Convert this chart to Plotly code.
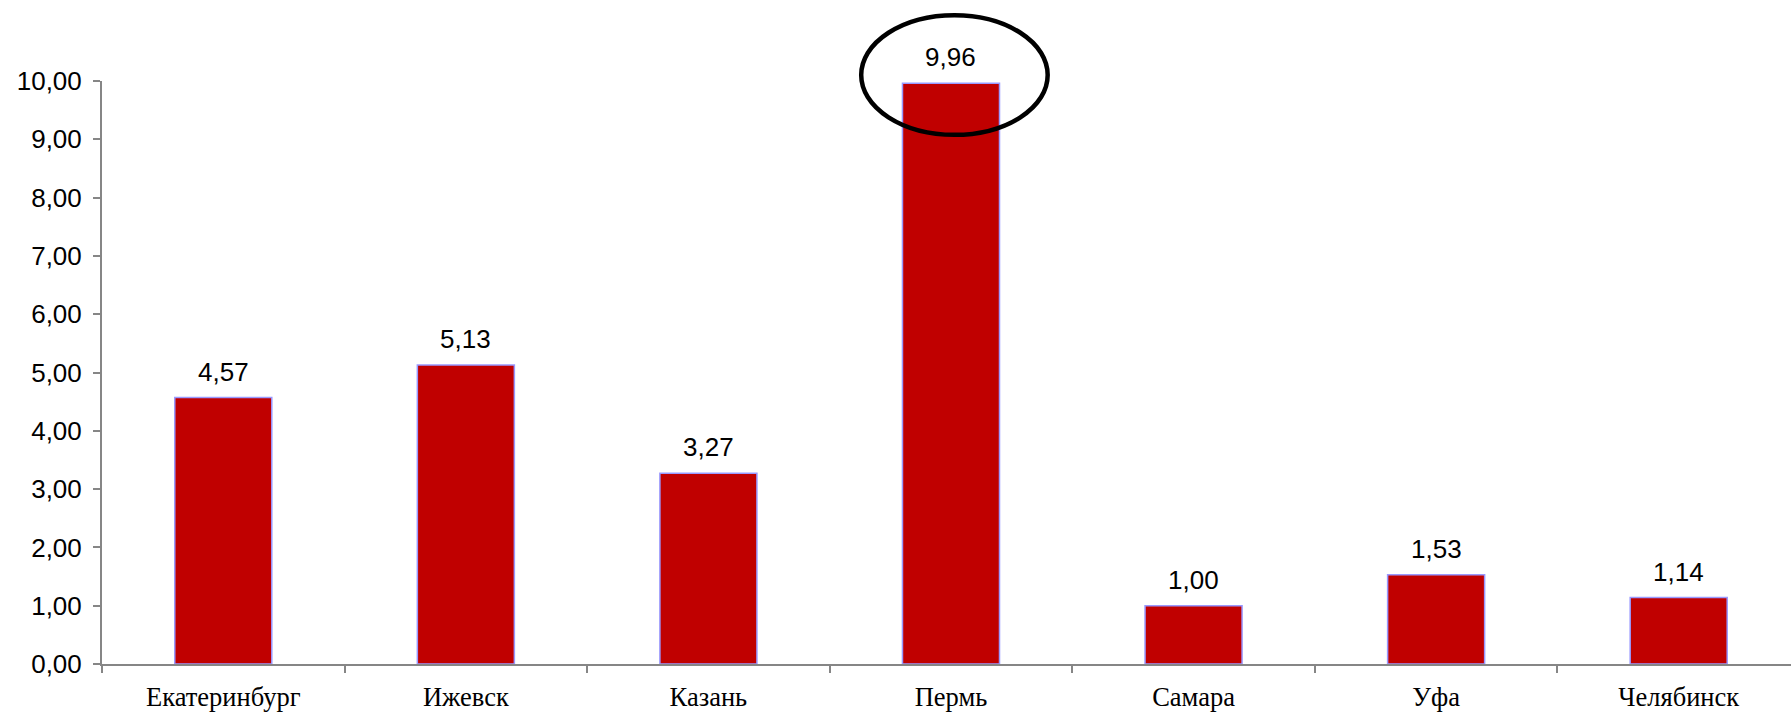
import plotly.graph_objects as go

categories = ["Екатеринбург", "Ижевск", "Казань", "Пермь", "Самара", "Уфа", "Челябинск"]
values = [4.57, 5.13, 3.27, 9.96, 1.00, 1.53, 1.14]
y_ticks = [0, 1, 2, 3, 4, 5, 6, 7, 8, 9, 10]

W, H = 1791, 712
L, T, B = 102, 81, 46

fig = go.Figure()
fig.add_trace(go.Bar(
    x=categories, y=values,
    width=0.4,
    marker=dict(color="#C00000", line=dict(color="#9999FF", width=1.5)),
    hoverinfo="skip",
))

for c, v in zip(categories, values):
    fig.add_annotation(
        x=c, y=v, xref="x", yref="y",
        text=f"{v:.2f}".replace(".", ","),
        showarrow=False, yanchor="bottom", yshift=9,
        font=dict(family="Liberation Sans, Arial", size=26, color="black"),
    )

fig.add_shape(
    type="circle", xref="paper", yref="paper",
    x0=0.4495, x1=0.5599, y0=0.9077, y1=1.1128,
    line=dict(color="black", width=4.5), fillcolor="rgba(0,0,0,0)",
)

fig.update_layout(
    width=W, height=H,
    margin=dict(l=L, r=0, t=T, b=B, pad=0),
    paper_bgcolor="white", plot_bgcolor="white",
    separators=", ",
    showlegend=False,
    bargap=0.6,
    xaxis=dict(
        type="category",
        range=[-0.5, 6.463],
        showline=True, linecolor="#868686", linewidth=2,
        ticks="outside", tickson="boundaries", ticklen=7, tickcolor="#868686", tickwidth=2,
        showgrid=False, zeroline=False,
        ticklabelstandoff=8,
        tickfont=dict(family="Liberation Serif, Times New Roman", size=26.5, color="black"),
    ),
    yaxis=dict(
        range=[0, 10],
        tickvals=y_ticks,
        tickformat=".2f",
        showline=True, linecolor="#868686", linewidth=2,
        ticks="outside", ticklen=7, tickcolor="#868686", tickwidth=2,
        showgrid=False, zeroline=False,
        ticklabelstandoff=6,
        tickfont=dict(family="Liberation Sans, Arial", size=26, color="black"),
    ),
)

fig.write_html(
    "out.html",
    config={"displayModeBar": False},
    post_script="document.body.style.margin='0px';document.body.style.overflow='hidden';",
)
